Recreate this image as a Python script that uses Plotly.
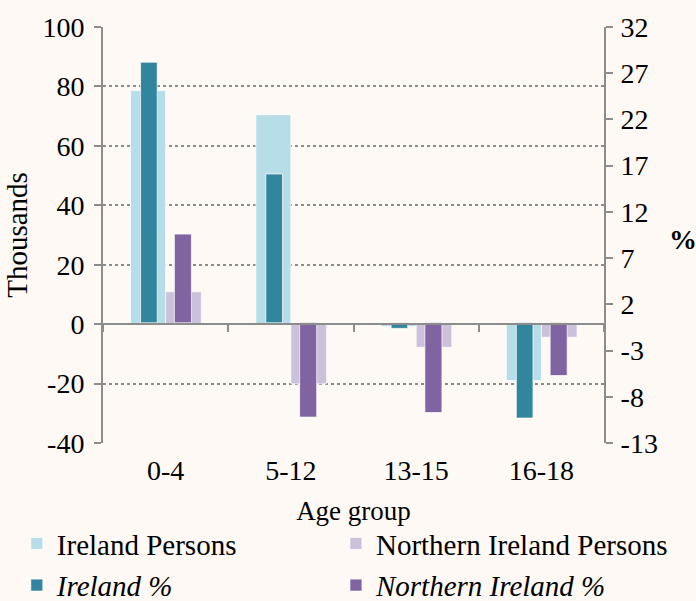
import plotly.graph_objects as go

# data
age_groups = ["0-4", "5-12", "13-15", "16-18"]
ireland_persons = [78.6, 70.5, -0.8, -19.0]        # thousands
ni_persons = [10.9, -20.1, -7.8, -4.4]             # thousands
ireland_pct = [28.2, 16.1, -0.6, -10.3]            # %
ni_pct = [9.6, -10.2, -9.7, -5.7]                  # %
thousand_ticks = [-40, -20, 0, 20, 40, 60, 80, 100]
pct_ticks = [-13, -8, -3, 2, 7, 12, 17, 22, 27, 32]

FONT = "Liberation Serif"
BG = "#FFF9F5"
AX = "#8C8C8C"
edge = dict(color="rgba(255,255,255,0.7)", width=1)

fig = go.Figure()

# primary axis bars (wide)
fig.add_trace(go.Bar(x=age_groups, y=ireland_persons, name="Ireland Persons",
                     marker=dict(color="#B7DEE8", line=edge),
                     offset=-0.28, width=0.28, xaxis="x", yaxis="y", legend="legend"))
fig.add_trace(go.Bar(x=age_groups, y=ni_persons, name="Northern Ireland Persons",
                     marker=dict(color="#CCC1DA", line=edge),
                     offset=0.0, width=0.285, xaxis="x", yaxis="y", legend="legend2"))

# secondary axis bars (narrow)
fig.add_trace(go.Bar(x=age_groups, y=ireland_pct, name="<i>Ireland %</i>",
                     marker=dict(color="#31859C", line=edge),
                     offset=-0.2, width=0.133, xaxis="x2", yaxis="y2", legend="legend3"))
fig.add_trace(go.Bar(x=age_groups, y=ni_pct, name="<i>Northern Ireland %</i>",
                     marker=dict(color="#8064A2", line=edge),
                     offset=0.07, width=0.136, xaxis="x2", yaxis="y2", legend="legend4"))

leg = dict(orientation="h", font=dict(family=FONT, size=29, color="black"),
           bgcolor="rgba(0,0,0,0)", xanchor="left", yanchor="middle")
col1, col2 = -0.172, 0.465
row1, row2 = -0.2418, -0.342

fig.update_layout(
    width=696, height=601,
    margin=dict(l=103, r=92, t=27, b=158, autoexpand=False),
    paper_bgcolor=BG, plot_bgcolor=BG,
    barmode="overlay",
    font=dict(family=FONT, size=28, color="black"),
    showlegend=True,
    legend=dict(leg, x=col1, y=row1),
    legend2=dict(leg, x=col2, y=row1),
    legend3=dict(leg, x=col1, y=row2),
    legend4=dict(leg, x=col2, y=row2),
    # x axis line drawn at y = 0 with ticks between categories
    xaxis=dict(type="category", range=[-0.5, 3.5], anchor="free", position=40 / 140,
               showline=True, linecolor=AX, linewidth=2, ticks="outside",
               tickson="boundaries", ticklen=7, tickwidth=2, tickcolor=AX,
               showticklabels=False, showgrid=False, zeroline=False, automargin=False),
    xaxis2=dict(type="category", range=[-0.5, 3.5], overlaying="x", anchor="y", side="bottom",
                showline=False, ticks="", showgrid=False, zeroline=False,
                ticklabelstandoff=8, automargin=False,
                title=dict(text="Age group", standoff=16, font=dict(size=27))),
    yaxis=dict(range=[-40, 100], tickvals=thousand_ticks,
               ticktext=[str(v) for v in thousand_ticks],
               showline=True, linecolor=AX, linewidth=2,
               ticks="outside", ticklen=7, tickwidth=2, tickcolor=AX,
               showgrid=True, gridcolor=AX, griddash="dot", gridwidth=1.5,
               zeroline=False, ticklabelstandoff=4, automargin=False,
               title=dict(text="Thousands", standoff=6, font=dict(size=29))),
    yaxis2=dict(range=[-13, 32], tickvals=pct_ticks, ticktext=[str(v) for v in pct_ticks],
                overlaying="y", side="right",
                showline=True, linecolor=AX, linewidth=2, ticks="outside", ticklen=7,
                tickwidth=2, tickcolor=AX, showgrid=False, zeroline=False,
                ticklabelstandoff=2, automargin=False),
    annotations=[dict(text="<b>%</b>", x=1.19, y=0.488, xref="paper", yref="paper",
                      showarrow=False, font=dict(size=28))],
)

# drop the default page margin so the figure sits at the window's corner
fig.write_html("out.html", config={"displayModeBar": False},
               post_script="document.body.style.margin='0';")
